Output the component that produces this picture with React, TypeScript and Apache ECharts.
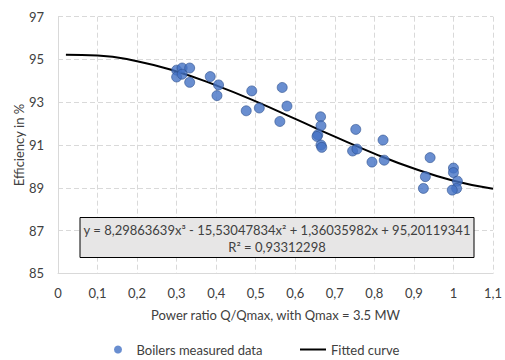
import React, { useEffect, useRef } from "react";
import * as echarts from "echarts";

const measuredX = [
  0.3, 0.314, 0.333, 0.3, 0.314, 0.333, 0.385, 0.406, 0.402, 0.49, 0.476, 0.509,
  0.567, 0.579, 0.561, 0.664, 0.665, 0.657, 0.655, 0.665, 0.667, 0.753, 0.745,
  0.756, 0.794, 0.822, 0.825, 0.941, 0.929, 0.924, 1.0, 1.0, 1.01, 1.008, 0.997,
];
const measuredY = [
  94.5, 94.6, 94.6, 94.18, 94.31, 93.93, 94.2, 93.81, 93.31, 93.53, 92.6, 92.73,
  93.69, 92.82, 92.1, 92.32, 91.9, 91.48, 91.4, 91.0, 90.89, 91.73, 90.72,
  90.81, 90.2, 91.23, 90.29, 90.41, 89.52, 88.97, 89.92, 89.71, 89.31, 88.97, 88.89,
];
const curveX = [0.02, 0.1, 0.2, 0.3, 0.4, 0.5, 0.6, 0.7, 0.8, 0.9, 1.0, 1.1];
const curveY = [95.22, 95.19, 94.92, 94.44, 93.79, 93.04, 92.22, 91.39, 90.6, 89.9, 89.33, 88.95];

const seriesNames = ["Boilers measured data", "Fitted curve"];
const equationLine = "y = 8,29863639x³ - 15,53047834x² + 1,36035982x + 95,20119341";
const r2Line = "R² = 0,93312298";
const xTitle = "Power ratio Q/Qmax, with Qmax = 3.5 MW";
const yTitle = "Efficiency in %";

const FONT = "Lato";
const TXT = "#404040";

export default function App() {
  const ref = useRef<HTMLDivElement>(null);
  useEffect(() => {
    document.body.style.margin = "0";
    const chart = echarts.init(ref.current!, null, { renderer: "svg" });
    const fmt = (v: number) => Number(v.toFixed(1)).toString().replace(".", ",");
    const legendText = { fontFamily: FONT, fontSize: 13, color: TXT };
    chart.setOption({
      animation: false,
      backgroundColor: "#ffffff",
      textStyle: { fontFamily: FONT },
      grid: { left: 58, right: 8.3, top: 16.7, bottom: 86.7 },
      xAxis: {
        type: "value",
        min: 0,
        max: 1.1,
        interval: 0.1,
        name: xTitle,
        nameLocation: "middle",
        nameGap: 35,
        nameTextStyle: { fontFamily: FONT, fontSize: 13, color: TXT },
        axisLine: { show: true, lineStyle: { color: "#d9d9d9", width: 1 } },
        axisTick: { show: false },
        axisLabel: { formatter: fmt, fontFamily: FONT, fontSize: 13, color: TXT, margin: 13 },
        splitLine: { show: true, lineStyle: { color: "#d9d9d9", type: [5, 3], width: 1 } },
      },
      yAxis: {
        type: "value",
        min: 85,
        max: 97,
        interval: 2,
        name: yTitle,
        nameLocation: "middle",
        nameGap: 33,
        nameMoveOverlap: false,
        nameRotate: 90,
        nameTextStyle: { fontFamily: FONT, fontSize: 13, color: TXT },
        axisLine: { show: true, lineStyle: { color: "#d9d9d9", width: 1 } },
        axisTick: { show: false },
        axisLabel: { fontFamily: FONT, fontSize: 13, color: TXT, margin: 14 },
        splitLine: { show: true, lineStyle: { color: "#d9d9d9", type: [5, 3], width: 1 } },
      },
      legend: [
        {
          left: 114,
          top: 343,
          padding: 0,
          itemWidth: 27,
          itemHeight: 8,
          textStyle: legendText,
          data: [{ name: seriesNames[0], icon: "circle", itemStyle: { borderWidth: 0 } }],
        },
        {
          left: 300,
          top: 343,
          padding: 0,
          itemWidth: 26,
          itemHeight: 2,
          textStyle: legendText,
          data: [{ name: seriesNames[1], icon: "rect" }],
        },
      ],
      series: [
        {
          name: seriesNames[0],
          type: "scatter",
          symbol: "circle",
          symbolSize: 10,
          z: 3,
          itemStyle: { color: "#4472c4", borderColor: "#2f528f", borderWidth: 0.8 },
          data: measuredX.map((x, i) => [x, measuredY[i]]),
        },
        {
          name: seriesNames[1],
          type: "line",
          symbol: "none",
          smooth: true,
          z: 2,
          lineStyle: { color: "#000000", width: 2 },
          itemStyle: { color: "#000000" },
          data: curveX.map((x, i) => [x, curveY[i]]),
        },
      ],
      graphic: [
        {
          type: "rect",
          z: 10,
          shape: { x: 80, y: 217.5, width: 394, height: 40 },
          style: { fill: "#e7e6e6", stroke: "#000000", lineWidth: 1 },
        },
        {
          type: "text",
          z: 11,
          x: 277,
          y: 230,
          style: {
            text: equationLine,
            fontFamily: FONT,
            fontSize: 13,
            fill: TXT,
            align: "center",
            verticalAlign: "middle",
          },
        },
        {
          type: "text",
          z: 11,
          x: 277,
          y: 247,
          style: {
            text: r2Line,
            fontFamily: FONT,
            fontSize: 13,
            fill: TXT,
            align: "center",
            verticalAlign: "middle",
          },
        },
      ],
    });
    return () => chart.dispose();
  }, []);
  return <div ref={ref} style={{ width: 505, height: 360 }} />;
}
